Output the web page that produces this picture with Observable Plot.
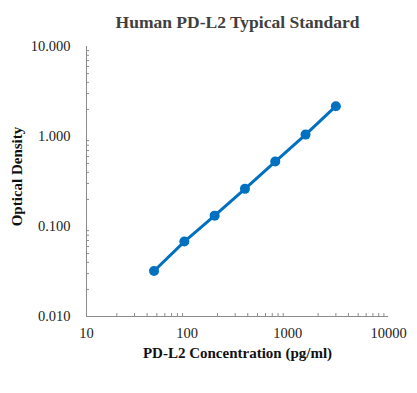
<!DOCTYPE html>
<html><head><meta charset="utf-8">
<script src="https://cdn.jsdelivr.net/npm/d3@7"></script>
<script src="https://cdn.jsdelivr.net/npm/@observablehq/plot@0.6"></script>
<style>body{margin:0;background:#fff}#chart svg{display:block}</style>
</head><body><div id="chart"></div>
<script>
const concentration = [46.875, 93.75, 187.5, 375, 750, 1500, 3000];
const od = [0.032, 0.068, 0.132, 0.262, 0.527, 1.05, 2.17];
const xTicks = [10, 100, 1000, 10000];
const yTicks = [0.01, 0.1, 1, 10];
const title = "Human PD-L2 Typical Standard";
const xLabel = "PD-L2 Concentration (pg/ml)";
const yLabel = "Optical Density";

const data = concentration.map((c, i) => ({c, od: od[i]}));
const minorX = [];
for (const d of [10, 100, 1000]) for (let k = 2; k <= 9; k++) minorX.push(d * k);
const minorY = [];
for (const d of [0.01, 0.1, 1]) for (let k = 2; k <= 9; k++) minorY.push(+(d * k).toFixed(4));

const font = "'Liberation Serif', 'Times New Roman', serif";
const axisColor = "#8c8c8c";

const chart = Plot.plot({
  width: 417, height: 393,
  marginLeft: 86, marginRight: 29, marginTop: 46, marginBottom: 77,
  style: {fontFamily: font, fontSize: "14.5px", color: "#222", background: "#fff"},
  x: {type: "log", domain: [10, 10000]},
  y: {type: "log", domain: [0.01, 10]},
  marks: [
    Plot.axisX(minorX, {tickSize: -3, text: null, stroke: axisColor, label: null}),
    Plot.axisY(minorY, {tickSize: -3, text: null, stroke: axisColor, label: null}),
    Plot.axisX(xTicks, {tickSize: 0, tickPadding: 11, tickFormat: d => String(d), fontSize: "14.5px", fill: "#222", label: null}),
    Plot.axisY(yTicks, {tickSize: 0, tickPadding: 16, tickFormat: d3.format(".3f"), fontSize: "14.5px", fill: "#222", label: null}),
    Plot.ruleX([10], {stroke: axisColor}),
    Plot.ruleY([0.01], {stroke: axisColor}),
    Plot.line(data, {x: "c", y: "od", stroke: "#0070C0", strokeWidth: 3}),
    Plot.dot(data, {x: "c", y: "od", fill: "#0070C0", r: 5}),
    Plot.text([title], {frameAnchor: "top", lineAnchor: "middle", dy: -24, fontSize: 17.5, fontWeight: "bold", fill: "#404040", text: d => d}),
    Plot.text([xLabel], {frameAnchor: "bottom", lineAnchor: "middle", dy: 37, fontSize: 15, fontWeight: "bold", fill: "#111", text: d => d}),
    Plot.text([yLabel], {frameAnchor: "left", textAnchor: "middle", lineAnchor: "middle", dx: -69, dy: -5, rotate: -90, fontSize: 15, fontWeight: "bold", fill: "#111", text: d => d})
  ]
});
document.getElementById("chart").appendChild(chart);
</script></body></html>
